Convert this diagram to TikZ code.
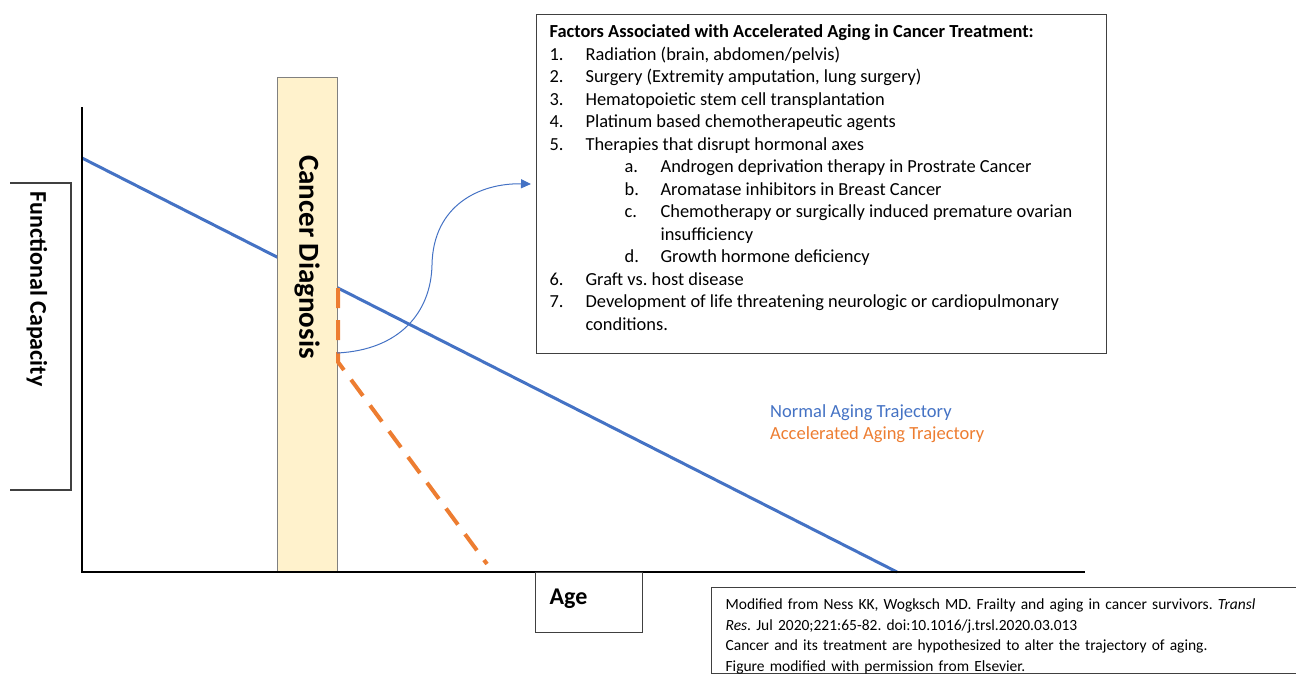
\documentclass[tikz,border=0pt]{standalone}
\usepackage{fontspec}
\setmainfont{Carlito}
\usetikzlibrary{positioning,arrows.meta}
\definecolor{agingblue}{HTML}{4472C4}
\definecolor{agingorange}{HTML}{ED7D31}
\definecolor{dxfill}{HTML}{FFF2CC}
\definecolor{framegray}{HTML}{404040}
\frenchspacing
\newcommand{\itemno}[1]{\makebox[36pt][l]{#1}}
\newcommand{\subno}[1]{\hspace*{75pt}\makebox[36pt][l]{#1}}
\tikzset{
  axis line/.style={line width=2.5pt, black},
  normal line/.style={line width=3pt, agingblue},
  accel line/.style={
    line width=4pt,
    agingorange,
    dash pattern=on 20pt off 12pt,
  },
  diagnosis bar/.style={
    fill=dxfill,
    draw=gray,
    line width=1pt,
    minimum width=60pt,
    minimum height=495pt,
    inner sep=0pt,
  },
  side label/.style={
    rotate=-90,
    font=\bfseries\fontsize{#1}{#1}\selectfont,
  },
  frame line/.style={draw=framegray, line width=1.2pt},
  age box/.style={
    draw=framegray,
    line width=1.2pt,
    minimum width=107pt,
    minimum height=60pt,
    text width=79pt,
    align=left,
    inner xsep=14pt,
    inner ysep=4pt,
    text height=28pt,
    text depth=24pt,
    font=\bfseries\fontsize{24}{24}\selectfont,
  },
  list box/.style={
    draw=framegray,
    line width=1.2pt,
    inner xsep=13pt,
    inner ysep=0pt,
  },
  note box/.style={
    draw=framegray,
    line width=1.2pt,
    text width=600pt,
    align=left,
    inner xsep=14pt,
    inner ysep=0pt,
    font=\fontsize{15.5}{20.5}\selectfont,
  },
  legend/.style={
    inner xsep=0pt,
    inner ysep=1pt,
    text height=15pt,
    text depth=5pt,
    font=\fontsize{18.5}{18.5}\selectfont,
  },
  factor arrow/.style={
    agingblue,
    line width=1pt,
    -{Triangle[length=10pt,width=9pt]},
    shorten >=5pt,
  },
}

\begin{document}
\begin{tikzpicture}[x=1pt, y=-1pt]
  \useasboundingbox (0,0) rectangle (1296,683);
  \coordinate (origin) at (82,572);
  \coordinate (ytop) at (82,107);
  \coordinate (xend) at (1085,572);
  \coordinate (nstart) at (82,158);
  \coordinate (nend) at (897,572);

  \draw[normal line] (nstart) -- (nend);
  \node[diagnosis bar] (dx) at (307,324.5) {};
  \node[side label=29] (dxlabel) at (307,257) {Cancer Diagnosis};
  \draw[axis line] (ytop) -- (origin) -- (xend);

  \coordinate (astart) at (338,288);
  \coordinate (aturn) at (338,362);
  \coordinate (aend) at (487,564);
  \draw[accel line] (astart) -- (aturn) -- (aend);

  \draw[frame line] (10,183) -| (71,490) -- (10,490);
  \node[side label=24] (fc) at (37,289) {Functional Capacity};

  \node[age box, anchor=north west] (age) at (535,572) {Age};

  \node[list box, anchor=north west] (factors) at (536,14) {\parbox[c][339pt][t]{544pt}{\raggedright\fontsize{18.4}{22.5}\selectfont
    \rule{0pt}{23pt}{\bfseries Factors Associated with Accelerated Aging in Cancer Treatment:}\\
    \itemno{1.}Radiation (brain, abdomen/pelvis)\\
    \itemno{2.}Surgery (Extremity amputation, lung surgery)\\
    \itemno{3.}Hematopoietic stem cell transplantation\\
    \itemno{4.}Platinum based chemotherapeutic agents\\
    \itemno{5.}Therapies that disrupt hormonal axes\\
    \subno{a.}Androgen deprivation therapy in Prostrate Cancer\\
    \subno{b.}Aromatase inhibitors in Breast Cancer\\
    \subno{c.}Chemotherapy or surgically induced premature ovarian\\
    \hspace*{111pt}insufficiency\\
    \subno{d.}Growth hormone deficiency\\
    \itemno{6.}Graft vs. host disease\\
    \itemno{7.}Development of life threatening neurologic or cardiopulmonary\\
    \hspace*{36pt}conditions.}};

  \coordinate (arcstart) at (337,353);
  \draw[factor arrow] (arcstart) .. controls (400,350) and (431,312) .. (432,265)
    .. controls (433,205) and (480,183) .. (factors.west);

  \node[legend, text=agingblue, anchor=west] (normal) at (770,412) {Normal Aging Trajectory};
  \node[legend, text=agingorange, below=0pt of normal.south west, anchor=north west] (accel) {Accelerated Aging Trajectory};

  \node[note box, anchor=north west] (note) at (711,587) {\rule{0pt}{22pt}Modified from Ness KK, Wogksch MD. Frailty and aging in cancer survivors. \textit{Transl}\\
    \textit{Res}. Jul 2020;221:65-82. doi:10.1016/j.trsl.2020.03.013\\
    Cancer and its treatment are hypothesized to alter the trajectory of aging.\\
    Figure modified with permission from Elsevier.\\[12pt]};
\end{tikzpicture}
\end{document}
